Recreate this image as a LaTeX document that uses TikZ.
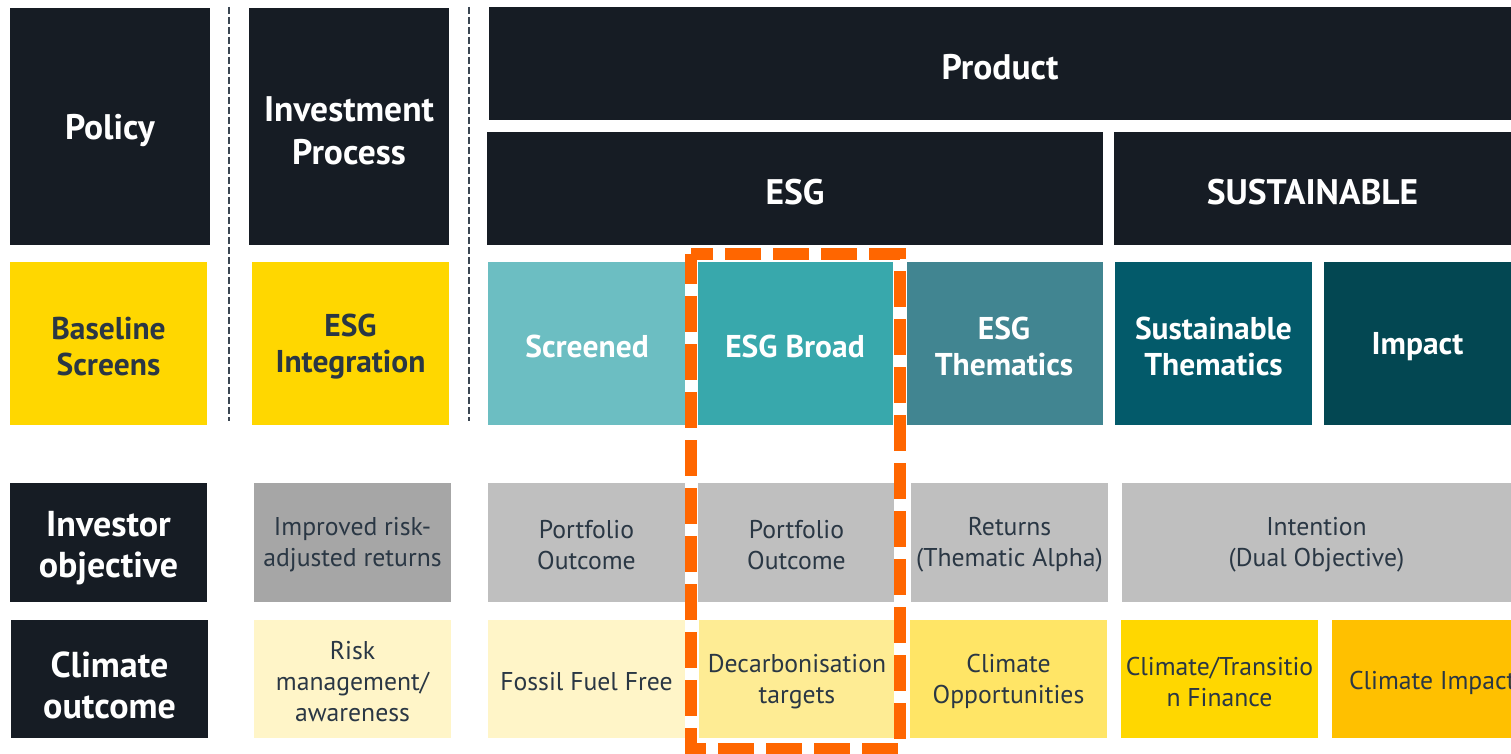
\documentclass[tikz,border=0pt]{standalone}
\usepackage{fontspec}
\setmainfont{PT Sans}
\definecolor{dark}{HTML}{161C24}
\definecolor{txt}{HTML}{2A3744}
\definecolor{yel}{HTML}{FFD700}
\definecolor{tealA}{HTML}{6CBEC2}
\definecolor{tealB}{HTML}{38A8AC}
\definecolor{tealC}{HTML}{418591}
\definecolor{tealD}{HTML}{035A6A}
\definecolor{tealE}{HTML}{034752}
\definecolor{grayA}{HTML}{A6A6A6}
\definecolor{grayB}{HTML}{BFBFBF}
\definecolor{creamA}{HTML}{FFF5C8}
\definecolor{creamB}{HTML}{FEEC94}
\definecolor{yelB}{HTML}{FFE566}
\definecolor{amber}{HTML}{FFC000}
\definecolor{orng}{HTML}{FF6600}
\definecolor{sep}{HTML}{3B4652}
% #1 name, #2-#5 box corners (px), #6 fill colour, #7 text style, #8 text
\newcommand\bx[8]{%
  \node[base, fill=#6, minimum width={(#4-#2)*1pt}, minimum height={(#5-#3)*1pt}] (#1) at ({(#2+#4)/2},{(#3+#5)/2}) {};%
  \node[#7] (#1-t) at (#1.center) {#8};}
\tikzset{
  base/.style={inner sep=0pt, outer sep=0pt, align=center},
  head/.style={base, text=white, font=\fontsize{35.5}{43}\selectfont\bfseries, yshift=-4pt},
  cat/.style={base, text=white, font=\fontsize{31.5}{36}\selectfont\bfseries, yshift=-3pt},
  ycat/.style={cat, text=txt},
  lbl/.style={base, text=white, font=\fontsize{36}{41}\selectfont\bfseries, yshift=-6pt},
  cell/.style={base, text=txt, font=\fontsize{25.7}{31}\selectfont, yshift=-2.5pt},
  sepline/.style={draw=sep, line width=2.5pt, dash pattern=on 7pt off 3pt},
}
\begin{document}
\begin{tikzpicture}[x=1pt, y=-1pt]
\useasboundingbox (0,0) rectangle (1511,754);
% header row
\bx{policy}{10}{8}{210}{245}{dark}{head}{Policy}
\bx{invproc}{249}{8}{449}{245}{dark}{head}{Investment\\Process}
\bx{product}{489}{7}{1511}{120}{dark}{head}{Product}
\bx{esg}{487}{132}{1103}{245}{dark}{head}{ESG}
\bx{sust}{1114}{132}{1511}{245}{dark}{head}{SUSTAINABLE}
% separators
\coordinate (s1a) at (229,7); \coordinate (s1b) at (229,421);
\coordinate (s2a) at (469,7); \coordinate (s2b) at (469,421);
\draw[sepline] (s1a) -- (s1b);
\draw[sepline] (s2a) -- (s2b);
% category row
\bx{basescr}{10}{262}{207}{425}{yel}{ycat}{Baseline\\Screens}
\bx{integ}{252}{262}{449}{425}{yel}{ycat}{ESG\\Integration}
\bx{screened}{488}{262}{686}{425}{tealA}{cat}{Screened}
\bx{broad}{697}{262}{893}{425}{tealB}{cat}{ESG Broad}
\bx{thematic}{905}{262}{1103}{425}{tealC}{cat}{ESG\\Thematics}
\bx{susthem}{1115}{262}{1312}{425}{tealD}{cat}{Sustainable\\Thematics}
\bx{impact}{1324}{262}{1511}{425}{tealE}{cat}{Impact}
% investor objective row
\bx{invobj}{10}{483}{207}{602}{dark}{lbl}{Investor\\objective}
\bx{improved}{254}{483}{451}{602}{grayA}{cell}{Improved risk-\\adjusted returns}
\bx{port1}{488}{483}{685}{602}{grayB}{cell}{Portfolio\\Outcome}
\bx{port2}{698}{483}{895}{602}{grayB}{cell}{Portfolio\\Outcome}
\bx{returns}{911}{483}{1108}{602}{grayB}{cell}{Returns\\(Thematic Alpha)}
\bx{intention}{1122}{483}{1511}{602}{grayB}{cell}{Intention\\(Dual Objective)}
% climate outcome row
\bx{climout}{11}{620}{208}{738}{dark}{lbl}{Climate\\outcome}
\bx{riskm}{254}{620}{451}{738}{creamA}{cell}{Risk\\management/\\awareness}
\bx{fossil}{488}{620}{685}{738}{creamA}{cell}{Fossil Fuel Free}
\bx{decarb}{699}{620}{895}{738}{creamB}{cell}{Decarbonisation\\targets}
\bx{opp}{910}{620}{1107}{738}{yelB}{cell}{Climate\\Opportunities}
\bx{transition}{1121}{620}{1318}{738}{yel}{cell}{Climate/Transitio\\n Finance}
\node[base, fill=amber, minimum width=179pt, minimum height=118pt, anchor=north west] (climimpact) at (1332,620) {};
\node[cell, anchor=west] (climimpact-t) at (1349,680) {Climate Impact};
% highlight frame
\coordinate (hl1) at (691,254);
\coordinate (hl2) at (900,749);
\draw[white, line width=13pt] (hl1) rectangle (hl2);
\draw[orng, line width=12pt, dash pattern=on 36pt off 12pt, dash phase=6pt] (hl1) -- (hl1 |- hl2) -- (hl2) -- (hl2 |- hl1) -- cycle;
\end{tikzpicture}
\end{document}
